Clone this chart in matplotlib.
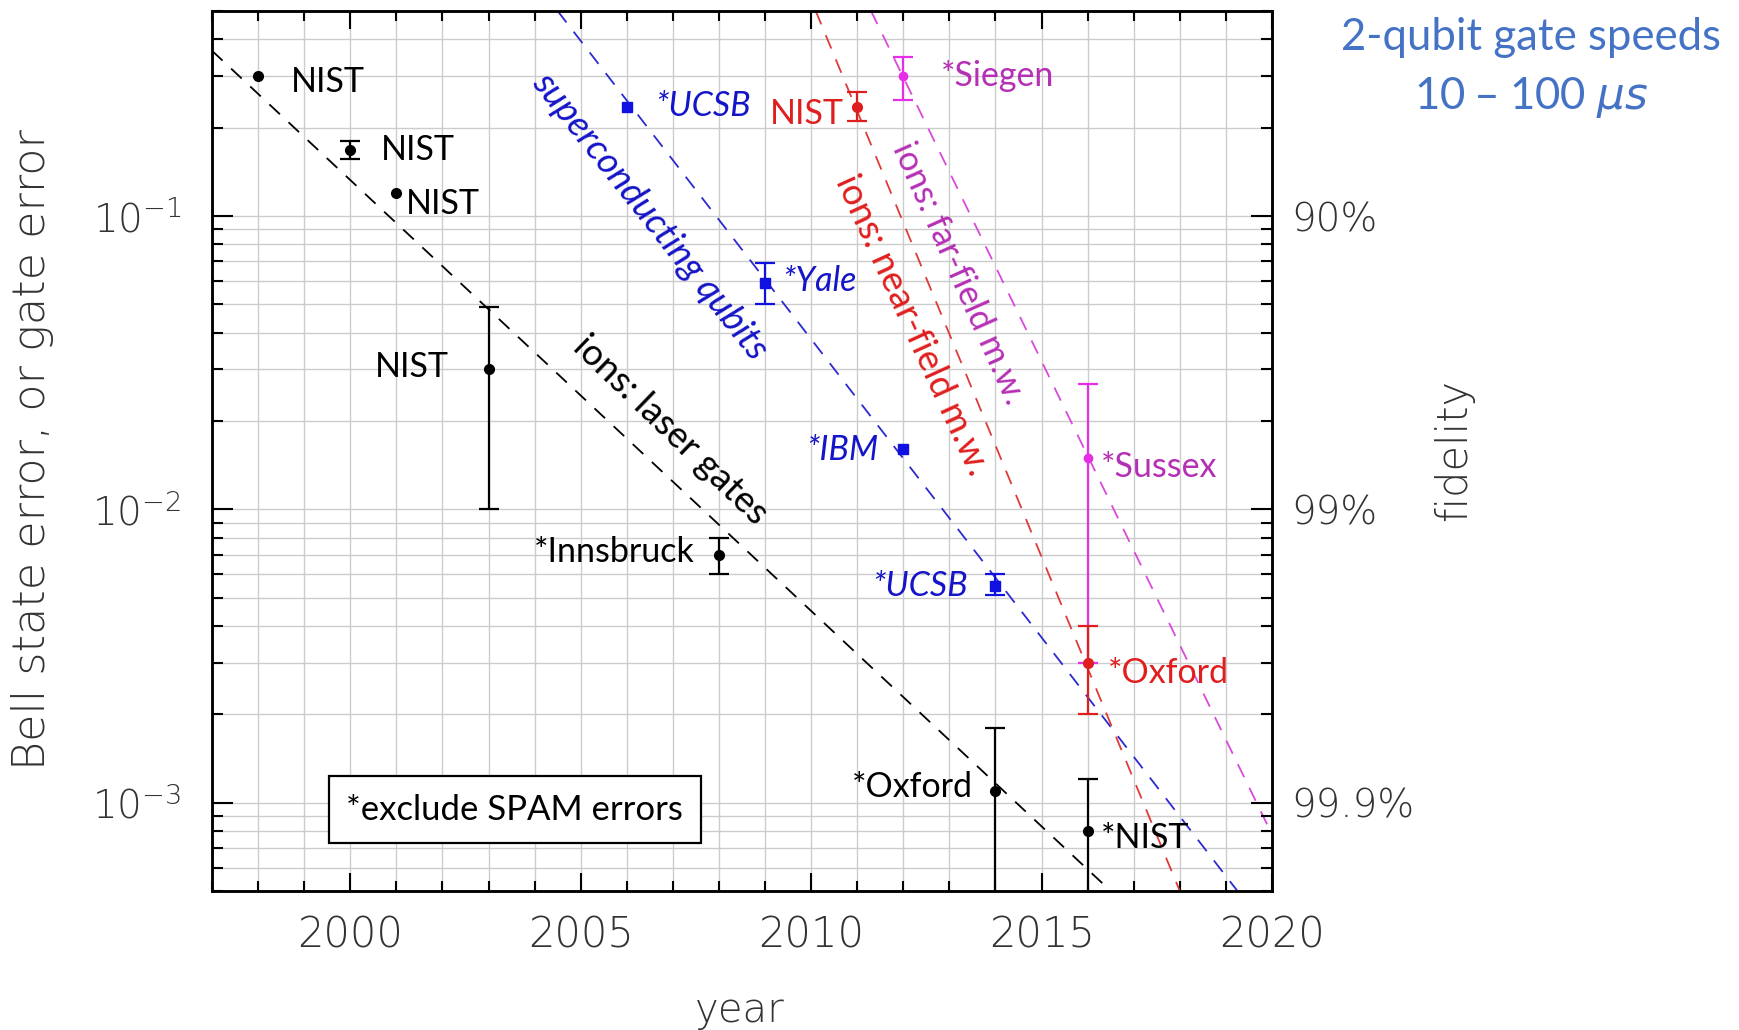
import matplotlib
matplotlib.use('Agg')
import matplotlib.pyplot as plt
from matplotlib.ticker import MultipleLocator, LogLocator, NullFormatter, FixedLocator, FixedFormatter

# ions, laser gates (black)
laser_years = [1998, 2000, 2001, 2003, 2008, 2014, 2016]
laser_err = [0.30, 0.168, 0.12, 0.030, 0.0070, 0.0011, 0.0008]
laser_lo = [None, 0.156, None, 0.010, 0.0060, 0.0003, 0.0003]
laser_hi = [None, 0.180, None, 0.049, 0.0080, 0.0018, 0.0012]
laser_names = ['NIST', 'NIST', 'NIST', 'NIST', '*Innsbruck', '*Oxford', '*NIST']

# superconducting qubits (blue)
sc_years = [2006, 2009, 2012, 2014]
sc_err = [0.235, 0.059, 0.016, 0.0055]
sc_lo = [None, 0.050, None, 0.0051]
sc_hi = [None, 0.069, None, 0.0060]
sc_names = ['*UCSB', '*Yale', '*IBM', '*UCSB']

# ions, near-field microwave (red)
nf_years = [2011, 2016]
nf_err = [0.235, 0.0030]
nf_lo = [0.211, 0.0020]
nf_hi = [0.264, 0.0040]
nf_names = ['NIST', '*Oxford']

# ions, far-field microwave (magenta)
ff_years = [2012, 2016]
ff_err = [0.30, 0.015]
ff_lo = [0.248, 0.0030]
ff_hi = [0.348, 0.0268]
ff_names = ['*Siegen', '*Sussex']

# trend lines (two anchor points each)
laser_trend_x = [1997.0, 2016.5]
laser_trend_y = [0.366, 5e-4]
sc_trend_x = [2004.5, 2019.25]
sc_trend_y = [0.5, 5e-4]
nf_trend_x = [2010.1, 2018.0]
nf_trend_y = [0.5, 5e-4]
ff_trend_x = [2011.3, 2020.0]
ff_trend_y = [0.5, 7.8e-4]

fidelity_ticks = [0.1, 0.01, 0.001]
fidelity_labels = ['90%', '99%', '99.9%']

BLACK = 'black'
BLUE = '#1414c8'
RED = '#e01e1e'
MAG = '#e62ee6'
MAG_TXT = '#b52fb5'
AXCOL = '#333333'
ANN_FONT = ['Lato', 'DejaVu Sans']
AX_FONT = ['DejaVu Sans']

plt.rcParams['font.family'] = AX_FONT
plt.rcParams['font.weight'] = 'light'

fig = plt.figure(figsize=(17.4, 10.3), dpi=100)
ax = fig.add_axes([212 / 1740, 1 - 891 / 1030, 1060 / 1740, 880 / 1030])
ax.set_yscale('log')
ax.set_xlim(1997, 2020)
ax.set_ylim(5e-4, 0.5)

# grid
ax.xaxis.set_major_locator(MultipleLocator(5))
ax.xaxis.set_minor_locator(MultipleLocator(1))
ax.yaxis.set_major_locator(LogLocator(base=10))
ax.yaxis.set_minor_locator(LogLocator(base=10, subs=range(2, 10)))
ax.yaxis.set_minor_formatter(NullFormatter())
ax.grid(which='both', color='#cccccc', lw=1.0, zorder=0)
ax.set_axisbelow(True)

for s in ax.spines.values():
    s.set_linewidth(1.8)
ax.tick_params(which='both', direction='in', top=True, right=False, width=1.5,
               labelcolor=AXCOL)
ax.tick_params(axis='y', which='major', length=15, pad=22, labelsize=28)
ax.tick_params(axis='y', which='minor', length=8)
ax.tick_params(axis='x', which='major', length=13, pad=17, labelsize=30)
ax.tick_params(axis='x', which='minor', length=7)

ax2 = ax.twinx()
ax2.set_yscale('log')
ax2.set_ylim(ax.get_ylim())
ax2.yaxis.set_major_locator(FixedLocator(fidelity_ticks))
ax2.yaxis.set_major_formatter(FixedFormatter(fidelity_labels))
ax2.yaxis.set_minor_locator(LogLocator(base=10, subs=range(2, 10)))
ax2.yaxis.set_minor_formatter(NullFormatter())
ax2.tick_params(which='both', direction='in', width=1.5, labelsize=28, labelcolor=AXCOL)
ax2.tick_params(which='major', length=15, pad=14)
ax2.tick_params(which='minor', length=8)
for s in ax2.spines.values():
    s.set_linewidth(1.8)

# trend lines
dash = (0, (8, 6.5))
ax.plot(laser_trend_x, laser_trend_y, ls=dash, color=BLACK, lw=1.3, zorder=2)
ax.plot(sc_trend_x, sc_trend_y, ls=dash, color='#2a2ad0', lw=1.3, zorder=2)
ax.plot(nf_trend_x, nf_trend_y, ls=dash, color='#e03a3a', lw=1.3, zorder=2)
ax.plot(ff_trend_x, ff_trend_y, ls=dash, color='#d94ad9', lw=1.3, zorder=2)


def draw_series(years, err, lo, hi, color, marker, ms):
    for x, y, l, h in zip(years, err, lo, hi):
        if l is None:
            continue
        ax.errorbar([x], [y], yerr=[[y - l], [h - y]], fmt='none', ecolor=color,
                    elinewidth=1.6, capsize=7, capthick=1.6, zorder=4)
    ax.plot(years, err, ls='none', marker=marker, color=color, ms=ms, zorder=5)


draw_series(laser_years, laser_err, laser_lo, laser_hi, BLACK, 'o', 7)
draw_series(sc_years, sc_err, sc_lo, sc_hi, '#1010e0', 's', 7.5)
draw_series(ff_years, ff_err, ff_lo, ff_hi, MAG, 'o', 6)
draw_series(nf_years, nf_err, nf_lo, nf_hi, RED, 'o', 7)

# point labels: (x, y, ha)
laser_pos = [(1998.72, 0.286, 'left'), (2000.66, 0.168, 'left'), (2001.2, 0.11, 'left'),
             (2002.15, 0.0305, 'right'), (2007.48, 0.00716, 'right'),
             (2013.52, 0.00113, 'right'), (2016.29, 0.00076, 'left')]
sc_pos = [(2006.61, 0.238, 'left'), (2009.38, 0.060, 'left'),
          (2011.47, 0.0159, 'right'), (2013.4, 0.0055, 'right')]
nf_pos = [(2010.7, 0.222, 'right'), (2016.44, 0.00276, 'left')]
ff_pos = [(2012.82, 0.30, 'left'), (2016.29, 0.014, 'left')]

for names, pos, col, style in [(laser_names, laser_pos, BLACK, 'normal'),
                               (sc_names, sc_pos, BLUE, 'italic'),
                               (nf_names, nf_pos, RED, 'normal'),
                               (ff_names, ff_pos, MAG_TXT, 'normal')]:
    for name, (x, y, ha) in zip(names, pos):
        ax.text(x, y, name, ha=ha, va='center', color=col, fontsize=24.5,
                style=style, family=ANN_FONT, weight='normal', zorder=6)

# trend labels along the lines
rot_kw = dict(ha='center', va='center', rotation_mode='anchor', fontsize=26.5,
              family=ANN_FONT, weight='normal')
ax.text(2006.5, 0.100, 'superconducting qubits', rotation=-51.5, color=BLUE,
        style='italic', **rot_kw)
ax.text(2006.95, 0.0186, 'ions: laser gates', rotation=-44, color=BLACK, **rot_kw)
ax.text(2012.2, 0.0424, 'ions: near-field m.w.', rotation=-65.5, color=RED, **rot_kw)
ax.text(2013.2, 0.064, 'ions: far-field m.w.', rotation=-66, color=MAG_TXT,
        **dict(rot_kw, fontsize=25))

ax.text(2003.57, 9.46e-4, '*exclude SPAM errors', ha='center', va='center', fontsize=25,
        family=ANN_FONT, weight='normal', zorder=7,
        bbox=dict(boxstyle='square,pad=0.5', fc='white', ec='black', lw=1.6))

# axis titles
fig.text(33 / 1740, 1 - 450 / 1030, 'Bell state error, or gate error', rotation=90,
         ha='center', va='center', fontsize=32, color=AXCOL)
fig.text(740 / 1740, 1 - 1010 / 1030, 'year', ha='center', va='center', fontsize=29,
         color=AXCOL)
fig.text(1454 / 1740, 1 - 450 / 1030, 'fidelity', rotation=90, ha='center', va='center',
         fontsize=30, color=AXCOL)

fig.text(1531 / 1740, 1 - 38 / 1030, '2-qubit gate speeds', ha='center', va='center',
         fontsize=31.5, color='#4472c4', family=ANN_FONT, weight='normal')
fig.text(1531 / 1740, 1 - 98 / 1030, '10 \u2013 100 $\\mu s$', ha='center', va='center',
         fontsize=31.5, color='#4472c4', family=ANN_FONT, weight='normal')

fig.savefig('out.png', dpi=100)
